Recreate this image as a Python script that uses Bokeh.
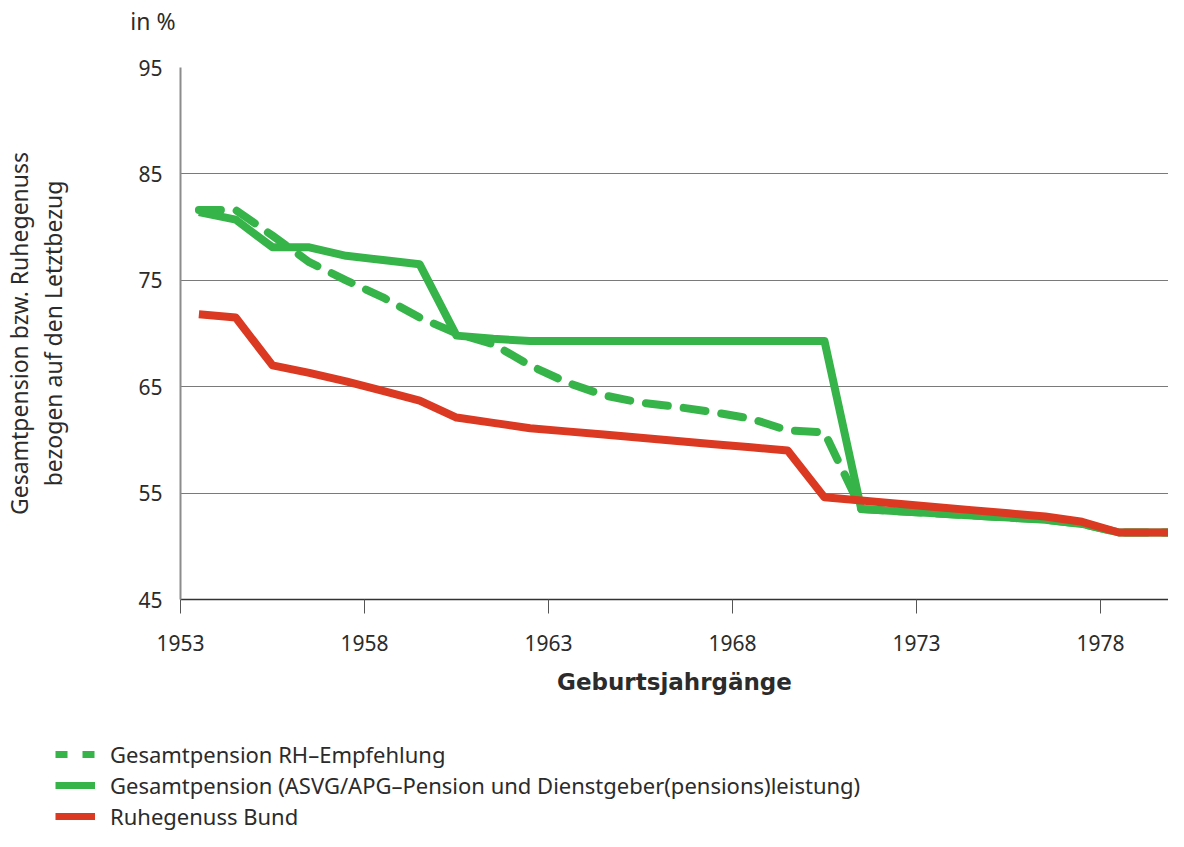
from bokeh.plotting import figure
from bokeh.models import Legend, LegendItem, Title, Label, FixedTicker, ColumnDataSource
from bokeh.layouts import column
from bokeh.embed import file_html
from bokeh.resources import INLINE

years = list(range(1953, 1981))
ruhegenuss_bund = [71.8, 71.5, 67.0, 66.3, 65.5, 64.6, 63.7, 62.1, 61.6, 61.1,
                   60.8, 60.5, 60.2, 59.9, 59.6, 59.3, 59.0, 54.6, 54.3, 54.0,
                   53.7, 53.4, 53.1, 52.8, 52.3, 51.3, 51.3, 51.3]
gesamtpension = [81.4, 80.7, 78.1, 78.1, 77.3, 76.9, 76.5, 69.8, 69.5, 69.3,
                 69.3, 69.3, 69.3, 69.3, 69.3, 69.3, 69.3, 69.3, 53.5, 53.3,
                 53.1, 52.9, 52.7, 52.5, 52.1, 51.3, 51.3, 51.3]
rh_empfehlung = [81.6, 81.6, 79.2, 76.7, 75.0, 73.4, 71.5, 70.0, 69.0, 67.0,
                 65.4, 64.2, 63.5, 63.1, 62.6, 62.0, 60.9, 60.7, 53.5, 53.3,
                 53.1, 52.9, 52.7, 52.5, 52.1, 51.3, 51.3, 51.3]
x_ticks = [1953, 1958, 1963, 1968, 1973, 1978]
y_ticks = [45, 55, 65, 75, 85, 95]
labels = ["Gesamtpension RH\u2013Empfehlung",
          "Gesamtpension (ASVG/APG\u2013Pension und Dienstgeber(pensions)leistung)",
          "Ruhegenuss Bund"]
y_title = ["Gesamtpension bzw. Ruhegenuss", "bezogen auf den Letztbezug"]
unit_text = "in %"
x_title = "Geburtsjahrgänge"

GREEN = "#36b44a"
RED = "#dc3922"
TXT = "#2b2b2b"
FONT = "Noto Sans"

styles = [dict(line_color=GREEN, line_width=8, line_dash="22 16", line_cap="round", line_join="round"),
          dict(line_color=GREEN, line_width=8, line_join="round"),
          dict(line_color=RED, line_width=8, line_join="round")]
legend_styles = [dict(line_color=GREEN, line_width=7, line_dash="12 15", line_cap="butt"),
                 dict(line_color=GREEN, line_width=7),
                 dict(line_color=RED, line_width=7)]

W = 1168

# ---------- header with the unit text ----------
hd = figure(width=W, height=40, x_range=(0, W), y_range=(0, 40),
            output_backend="svg", toolbar_location=None, min_border=0,
            x_axis_type=None, y_axis_type=None)
hd.outline_line_color = None
hd.xgrid.grid_line_color = None
hd.ygrid.grid_line_color = None
hd.add_layout(Label(x=175, y=20, text=unit_text, text_align="right",
                    text_baseline="middle", text_font=FONT,
                    text_font_size="23px", text_color=TXT))

# ---------- main chart ----------
# points sit in the middle of each year category
xs = [y + 0.5 for y in years]
src = ColumnDataSource(dict(x=xs, rot=ruhegenuss_bund, ges=gesamtpension, rh=rh_empfehlung))

p = figure(width=W, height=660, x_range=(1953, 1979.85), y_range=(45, 95),
           output_backend="svg", toolbar_location=None,
           min_border_left=180, min_border_right=0, min_border_top=27,
           min_border_bottom=101)
p.outline_line_color = None

p.line("x", "rh", source=src, **styles[0])
p.line("x", "ges", source=src, **styles[1])
p.line("x", "rot", source=src, **styles[2])

p.xaxis.ticker = FixedTicker(ticks=x_ticks)
p.xaxis.minor_tick_line_color = None
p.xaxis.major_tick_out = 14
p.xaxis.major_tick_in = 0
p.xaxis.major_tick_line_color = "#555555"
p.xaxis.axis_line_color = "#333333"
p.xaxis.axis_line_width = 1.5
p.xaxis.major_label_text_font = FONT
p.xaxis.major_label_text_font_size = "21px"
p.xaxis.major_label_text_color = TXT
p.xaxis.major_label_standoff = 21
p.xaxis.axis_label = x_title
p.xaxis.axis_label_text_font = "DejaVu Sans"
p.xaxis.axis_label_text_font_style = "bold"
p.xaxis.axis_label_text_font_size = "23px"
p.xaxis.axis_label_text_color = TXT
p.xaxis.axis_label_standoff = 15

p.yaxis.ticker = FixedTicker(ticks=y_ticks)
p.yaxis.minor_tick_line_color = None
p.yaxis.major_tick_out = 0
p.yaxis.major_tick_in = 0
p.yaxis.axis_line_color = "#8c8c8c"
p.yaxis.axis_line_width = 2
p.yaxis.major_label_text_font = FONT
p.yaxis.major_label_text_font_size = "21px"
p.yaxis.major_label_text_color = TXT
p.yaxis.major_label_standoff = 18
p.yaxis.axis_label = y_title[1]
p.yaxis.axis_label_text_font = FONT
p.yaxis.axis_label_text_font_style = "normal"
p.yaxis.axis_label_text_font_size = "23px"
p.yaxis.axis_label_text_color = TXT
p.yaxis.axis_label_standoff = 66

p.add_layout(Title(text=y_title[0], align="center", standoff=0,
                   text_font=FONT, text_font_size="23px", text_font_style="normal",
                   text_color=TXT), "left")

p.xgrid.grid_line_color = None
p.ygrid.ticker = FixedTicker(ticks=y_ticks)
p.ygrid.grid_line_color = "#7a7a7a"
p.ygrid.grid_line_width = 1

# ---------- legend ----------
lg = figure(width=W, height=131, x_range=(0, 1), y_range=(0, 1),
            output_backend="svg", toolbar_location=None,
            min_border=0, x_axis_type=None, y_axis_type=None)
lg.outline_line_color = None
lg.xgrid.grid_line_color = None
lg.ygrid.grid_line_color = None
nan_src = ColumnDataSource(dict(x=[float("nan")], y=[float("nan")]))
lr = [lg.line("x", "y", source=nan_src, **s) for s in legend_styles]

legend = Legend(items=[LegendItem(label=labels[i], renderers=[lr[i]]) for i in range(3)],
                location=(55, 0), orientation="vertical",
                glyph_width=40, glyph_height=20, label_height=20,
                label_standoff=15, spacing=1, padding=0, margin=0,
                border_line_color=None, background_fill_alpha=0,
                label_text_font=FONT, label_text_font_size="22px",
                label_text_color=TXT)
lg.add_layout(legend)

for f in (hd, p, lg):
    f.frame_align = False

layout = column(hd, p, lg, spacing=0)
open("out.html", "w").write(file_html(layout, INLINE))
